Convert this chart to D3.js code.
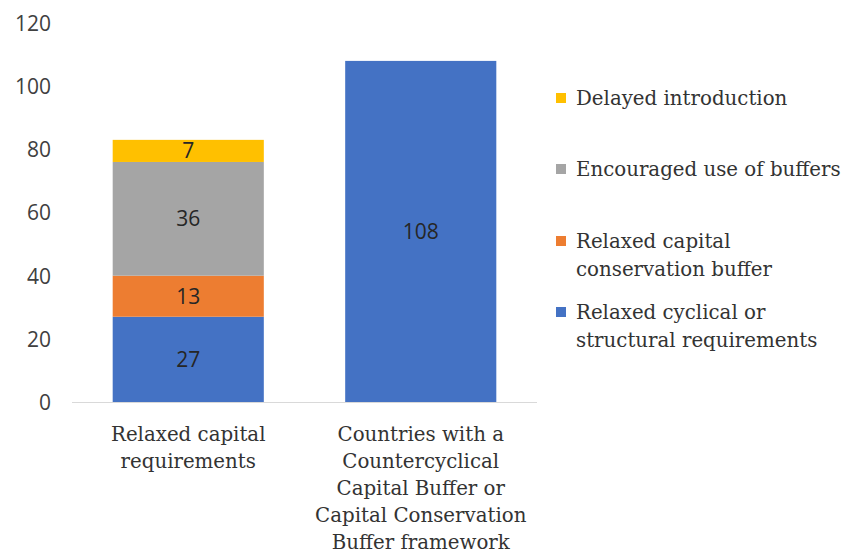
<!DOCTYPE html>
<html><head><meta charset="utf-8">
<script src="https://cdn.jsdelivr.net/npm/d3@7"></script>
<style>body{margin:0;background:#fff}svg{display:block}text{font-family:"DejaVu Serif",serif;fill:#333}</style>
</head><body><svg id="c" width="843" height="554"></svg>
<script>
const categories = [["Relaxed capital","requirements"],["Countries with a","Countercyclical","Capital Buffer or","Capital Conservation","Buffer framework"]];
const seriesNames = [["Relaxed cyclical or","structural requirements"],["Relaxed capital","conservation buffer"],["Encouraged use of buffers"],["Delayed introduction"]];
const seriesColors = ["#4472C4","#ED7D31","#A5A5A5","#FFC000"];
const relaxedCyclical = [27,108];
const relaxedCCB = [13,0];
const encouraged = [36,0];
const delayed = [7,0];
const yTicks = [0,20,40,60,80,100,120];

const svg = d3.select("#c");
const x = d3.scaleBand().domain([0,1]).range([72,537]).paddingInner(0.35).paddingOuter(0.175);
const y = d3.scaleLinear().domain([0,120]).range([402,23]);

const series = [relaxedCyclical, relaxedCCB, encouraged, delayed];
const rows = [0,1].map(i => ({i, s0:series[0][i], s1:series[1][i], s2:series[2][i], s3:series[3][i]}));
const stacked = d3.stack().keys(["s0","s1","s2","s3"])(rows);

// y axis labels
const yAxis = d3.axisLeft(y).tickValues(yTicks).tickSize(0).tickPadding(0);
const gy = svg.append("g").attr("transform","translate(51,0)").call(yAxis);
gy.select(".domain").remove();
gy.selectAll("text").attr("font-size",21).style("font-family","'Open Sans', sans-serif").style("fill","#404040").attr("text-anchor","end").attr("dy","0.35em");

// bars
stacked.forEach((layer,k) => {
  svg.append("g").selectAll("rect").data(layer.filter(d=>d[1]-d[0]>0)).join("rect")
    .attr("x", d => x(d.data.i)).attr("width", x.bandwidth())
    .attr("y", d => y(d[1])).attr("height", d => y(d[0]) - y(d[1]))
    .attr("fill", seriesColors[k]);
  svg.append("g").selectAll("text").data(layer.filter(d=>d[1]-d[0]>0)).join("text")
    .attr("x", d => x(d.data.i) + x.bandwidth()/2)
    .attr("y", d => y((d[0]+d[1])/2)).attr("dy","0.35em")
    .attr("text-anchor","middle").attr("font-size",21)
    .style("font-family","'Open Sans', sans-serif")
    .style("fill", "#262626")
    .text(d => d[1]-d[0]);
});

// x axis line
svg.append("line").attr("x1",72).attr("x2",537).attr("y1",402.5).attr("y2",402.5).attr("stroke","#d9d9d9").attr("stroke-width",1);

// x labels
categories.forEach((lines,i) => {
  const t = svg.append("text").attr("text-anchor","middle").attr("font-size",19.8)
    .attr("x", x(i)+x.bandwidth()/2).attr("y", 441);
  lines.forEach((l,j) => t.append("tspan").attr("x", x(i)+x.bandwidth()/2).attr("dy", j===0?0:27).text(l));
});

// legend
const legY = [312,241,169,98];
seriesNames.forEach((lines,k) => {
  svg.append("rect").attr("x",556).attr("y",legY[k]-5).attr("width",10).attr("height",10).attr("fill",seriesColors[k]);
  const t = svg.append("text").attr("font-size",19.8).attr("x",576).attr("y",legY[k]).attr("dy","0.35em");
  lines.forEach((l,j) => t.append("tspan").attr("x",576).attr("dy", j===0?"0.35em":28).text(l));
});
</script></body></html>
